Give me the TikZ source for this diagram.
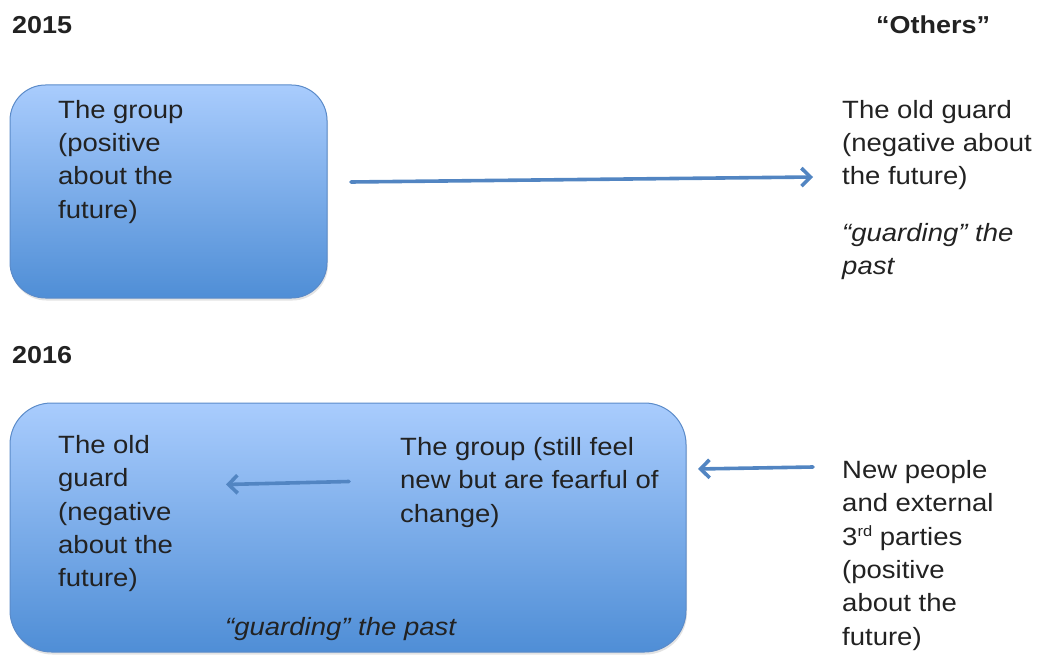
\documentclass[tikz,border=0pt]{standalone}
\usepackage{fontspec}
\setmainfont[FakeStretch=1.1]{Liberation Sans}
\usetikzlibrary{arrows.meta,shadows}
\definecolor{ink}{HTML}{222222}
\definecolor{boxtop}{HTML}{A9CCFD}
\definecolor{boxbot}{HTML}{4F8ED6}
\definecolor{boxline}{HTML}{5B8BC9}
\definecolor{arrowblue}{HTML}{5285C2}
% strut that fixes the top of each text block relative to its first baseline
\newcommand{\fl}{\rule{0pt}{20pt}}

\begin{document}
\begin{tikzpicture}[x=1pt,y=-1pt,
  txt/.style={anchor=north west, inner sep=0pt, align=left, text=ink,
              font=\fontsize{25}{33.4}\selectfont},
  itxt/.style={txt, font=\fontsize{25}{33.4}\selectfont\itshape},
  head/.style={anchor=base west, inner sep=0pt, text=ink,
               font=\fontsize{24.5}{30}\selectfont\bfseries},
  panel/.style={draw=boxline, line width=1pt, top color=boxtop, bottom color=boxbot,
                inner sep=0pt,
                drop shadow={shadow xshift=1pt, shadow yshift=-2.5pt, opacity=0.22}},
  flow/.style={draw=arrowblue, line width=3.6pt, line cap=round,
               -{Straight Barb[length=9pt,width=18pt]}}
]
\useasboundingbox (0,0) rectangle (1041,655);

% headings
\node[head] (y2015) at (12,34) {2015};
\node[head] (others) at (876,34) {“Others”};
\node[head] (y2016) at (12,363) {2016};

% 2015 panel
\node[panel, rounded corners=35.5pt, minimum width=317pt, minimum height=213pt]
  (box15) at (168.5,191.5) {};
\node[txt] (grp15) at (58,98) {\fl The group\\(positive\\about the\\future)};

\node[txt] (old15) at (842,98) {\fl The old guard\\(negative about\\the future)};
\node[itxt] (past15) at (842,221) {\fl “guarding” the\\past};

\coordinate (a1s) at (351,182);
\coordinate (a1e) at (813,177);
\draw[flow] (a1s) -- (a1e);

% 2016 panel
\node[panel, rounded corners=41.5pt, minimum width=676pt, minimum height=249pt]
  (box16) at (348,527.5) {};
\node[txt] (old16) at (58,433) {\fl The old\\guard\\(negative\\about the\\future)};
\node[txt] (grp16) at (400,435) {\fl The group (still feel\\new but are fearful of\\change)};
\node[itxt] (past16) at (225,615) {\fl “guarding” the past};

\node[txt] (new16) at (842,458) {\fl New people\\and external\\3{\fontsize{15}{15}\selectfont\raisebox{9pt}{rd}} parties\\(positive\\about the\\future)};

\coordinate (a2s) at (349,481.5);
\coordinate (a2e) at (226,484.5);
\draw[flow] (a2s) -- (a2e);

\coordinate (a3s) at (813,467);
\coordinate (a3e) at (698,469);
\draw[flow] (a3s) -- (a3e);
\end{tikzpicture}
\end{document}
